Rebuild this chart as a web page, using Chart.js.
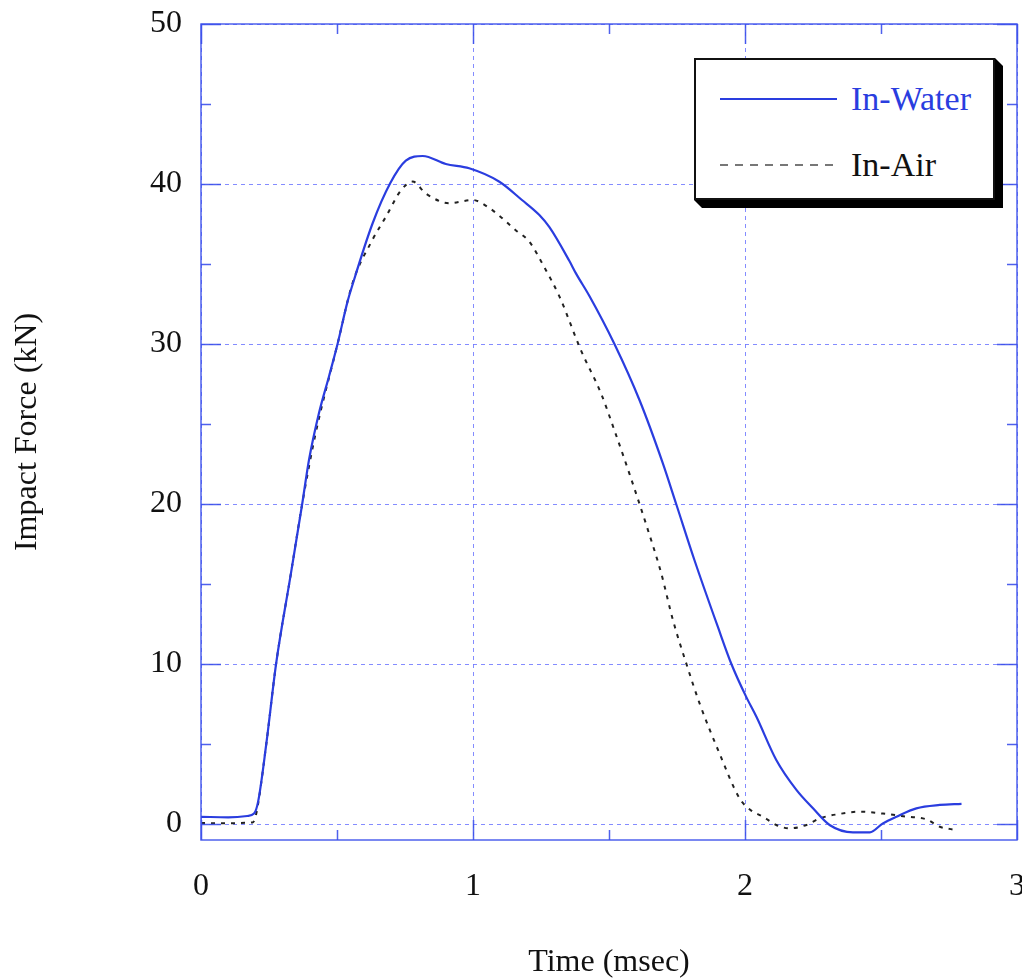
<!DOCTYPE html>
<html>
<head>
<meta charset="utf-8">
<title>Impact Force</title>
<script src="https://cdn.jsdelivr.net/npm/chart.js@4.4.1/dist/chart.umd.min.js"></script>
<style>
    body { margin: 0; background: #fff; }
    #wrap { position: relative; width: 1022px; height: 979px; }
    .legend-shadow {
        position: absolute; left: 694px; top: 58px; width: 309px; height: 150px;
        background: #000;
        clip-path: polygon(0 0, calc(100% - 8px) 0, 100% 8px, 100% 100%, 8px 100%, 0 calc(100% - 8px));
    }
    .legend-box {
        position: absolute; left: 694px; top: 58px; width: 297px; height: 138px;
        background: #fff; border: 2px solid #111;
        font-family: 'Liberation Serif', 'Times New Roman', serif; font-size: 34px;
    }
    .legend-row { position: absolute; left: 0; height: 40px; width: 100%; }
    .legend-line { position: absolute; left: 24px; top: 19px; width: 117px; height: 2px; }
    .legend-text { position: absolute; left: 155px; top: 0; line-height: 40px; }
</style>
</head>
<body>
<div id="wrap">
    <canvas id="impact-chart" width="1022" height="979"></canvas>
    <div class="legend-shadow"></div>
    <div class="legend-box">
        <div class="legend-row" style="top:19px">
            <div class="legend-line" style="background:#2a3ddf"></div>
            <span class="legend-text" style="color:#2a3ddf">In-Water</span>
        </div>
        <div class="legend-row" style="top:85px">
            <div class="legend-line" style="background:repeating-linear-gradient(90deg,#777 0 8px,transparent 8px 15px)"></div>
            <span class="legend-text" style="color:#111">In-Air</span>
        </div>
    </div>
</div>
<script>
// Time axis in msec, force in kN
const waterTime = [0, 0.10, 0.17, 0.195, 0.21, 0.24, 0.276, 0.33, 0.372, 0.397, 0.434, 0.471, 0.502, 0.538, 0.557,
    0.63, 0.696, 0.753, 0.815, 0.90, 0.986, 1.097, 1.18, 1.244, 1.281, 1.354, 1.379, 1.428, 1.52, 1.612, 1.698,
    1.747, 1.814, 1.90, 1.95, 2.004, 2.042, 2.115, 2.189, 2.25, 2.311, 2.397, 2.459, 2.507, 2.557, 2.63, 2.716, 2.796];
const waterForce = [0.45, 0.42, 0.5, 0.65, 1.4, 5.0, 10.0, 15.6, 20.0, 22.75, 25.7, 28.0, 30.0, 32.6, 33.7,
    37.5, 40.06, 41.46, 41.75, 41.25, 40.98, 40.14, 39.0, 38.06, 37.3, 35.2, 34.4, 33.0, 30.0, 26.5, 22.54,
    20.0, 16.5, 12.33, 10.0, 7.96, 6.7, 4.0, 2.13, 0.98, -0.06, -0.52, -0.52, 0.04, 0.46, 0.98, 1.19, 1.26];

const airTime = [0, 0.08, 0.19, 0.205, 0.24, 0.276, 0.33, 0.372, 0.42, 0.502, 0.557, 0.63, 0.68, 0.735, 0.778,
    0.827, 0.913, 0.999, 1.06, 1.158, 1.207, 1.262, 1.318, 1.397, 1.471, 1.52, 1.575, 1.637, 1.692, 1.735, 1.784,
    1.833, 1.906, 1.98, 2.02, 2.066, 2.115, 2.164, 2.226, 2.275, 2.348, 2.422, 2.507, 2.594, 2.667, 2.716, 2.765];
const airForce = [0.06, 0.05, 0.1, 0.8, 5.0, 10.0, 15.6, 20.0, 24.3, 30.0, 33.8, 36.5, 37.96, 39.6, 40.15,
    39.4, 38.8, 39.0, 38.5, 37.1, 36.4, 34.8, 32.96, 29.6, 26.9, 24.6, 21.9, 18.7, 15.67, 12.75, 10.04,
    7.54, 4.42, 1.6, 0.875, 0.46, -0.06, -0.27, -0.06, 0.35, 0.63, 0.77, 0.65, 0.46, 0.29, -0.17, -0.35];

// Axis ticks
const xMajorTicks = [0, 1, 2, 3];
const xMinorTicks = [0.5, 1.5, 2.5];
const yMajorTicks = [0, 10, 20, 30, 40, 50];
const yMinorTicks = [5, 15, 25, 35, 45];

const FRAME_COLOR = 'rgba(60, 80, 235, 0.9)';
const GRID_COLOR = 'rgba(110, 120, 255, 0.85)';
const FONT = { family: "'Liberation Serif', 'Times New Roman', serif", size: 32 };

const toPoints = (xs, ys) => xs.map((x, i) => ({ x: x, y: ys[i] }));

/**
 * Dashed grid, plot frame and inward tick marks
 */
const frameGrid = {
    id: 'frameGrid',
    beforeDatasetsDraw(chart) {
        const { ctx, chartArea: a, scales: { x, y } } = chart;
        ctx.save();
        ctx.strokeStyle = GRID_COLOR;
        ctx.lineWidth = 1;
        ctx.setLineDash([4, 4]);
        ctx.beginPath();
        xMajorTicks.forEach(v => {
            const px = Math.round(x.getPixelForValue(v)) + 0.5;
            ctx.moveTo(px, a.top);
            ctx.lineTo(px, a.bottom);
        });
        yMajorTicks.forEach(v => {
            const py = Math.round(y.getPixelForValue(v)) + 0.5;
            ctx.moveTo(a.left, py);
            ctx.lineTo(a.right, py);
        });
        ctx.stroke();
        ctx.restore();
    },
    afterDatasetsDraw(chart) {
        const { ctx, chartArea: a, scales: { x, y } } = chart;
        ctx.save();
        ctx.strokeStyle = FRAME_COLOR;
        ctx.lineWidth = 1.5;
        ctx.strokeRect(a.left, a.top, a.right - a.left, a.bottom - a.top);

        ctx.beginPath();
        const yTick = (v, len) => {
            const py = Math.round(y.getPixelForValue(v)) + 0.5;
            ctx.moveTo(a.left, py); ctx.lineTo(a.left + len, py);
            ctx.moveTo(a.right, py); ctx.lineTo(a.right - len, py);
        };
        const xTick = (v, len) => {
            const px = Math.round(x.getPixelForValue(v)) + 0.5;
            ctx.moveTo(px, a.bottom); ctx.lineTo(px, a.bottom - len);
            ctx.moveTo(px, a.top); ctx.lineTo(px, a.top + len);
        };
        yMajorTicks.forEach(v => yTick(v, 20));
        yMinorTicks.forEach(v => yTick(v, 10));
        xMajorTicks.forEach(v => xTick(v, 20));
        xMinorTicks.forEach(v => xTick(v, 10));
        ctx.stroke();
        ctx.restore();
    }
};

const ctx = document.getElementById('impact-chart').getContext('2d');

new Chart(ctx, {
    type: 'line',
    data: {
        datasets: [
            {
                label: 'In-Water',
                data: toPoints(waterTime, waterForce),
                borderColor: '#2a3ddf',
                borderWidth: 2.2,
                pointRadius: 0,
                cubicInterpolationMode: 'monotone',
                fill: false
            },
            {
                label: 'In-Air',
                data: toPoints(airTime, airForce),
                borderColor: '#222',
                borderWidth: 2,
                borderDash: [4, 6],
                pointRadius: 0,
                cubicInterpolationMode: 'monotone',
                fill: false
            }
        ]
    },
    options: {
        responsive: false,
        animation: false,
        layout: {
            padding: { left: 0, top: 24, right: 5, bottom: 0 }
        },
        scales: {
            x: {
                type: 'linear',
                min: 0,
                max: 3,
                afterBuildTicks: s => { s.ticks = xMajorTicks.map(v => ({ value: v })); },
                afterFit: s => { s.height = 139; s.paddingLeft = 0; s.paddingRight = 0; },
                grid: { display: false, drawTicks: false },
                border: { display: false },
                ticks: { color: '#111', font: FONT, padding: 27, maxRotation: 0 },
                title: {
                    display: true,
                    text: 'Time (msec)',
                    color: '#111',
                    font: { ...FONT, lineHeight: 1 },
                    padding: { top: 0, bottom: 0 }
                }
            },
            y: {
                type: 'linear',
                min: -1,
                max: 50,
                afterBuildTicks: s => { s.ticks = yMajorTicks.map(v => ({ value: v })); },
                afterFit: s => { s.width = 201; s.paddingTop = 0; s.paddingBottom = 0; },
                grid: { display: false, drawTicks: false },
                border: { display: false },
                ticks: { color: '#111', font: FONT, padding: 19 },
                title: {
                    display: true,
                    text: 'Impact Force (kN)',
                    color: '#111',
                    font: { ...FONT, lineHeight: 1 },
                    padding: { top: 12, bottom: 0 }
                }
            }
        },
        plugins: {
            legend: { display: false },
            tooltip: { enabled: false }
        }
    },
    plugins: [frameGrid]
});
</script>
</body>
</html>
